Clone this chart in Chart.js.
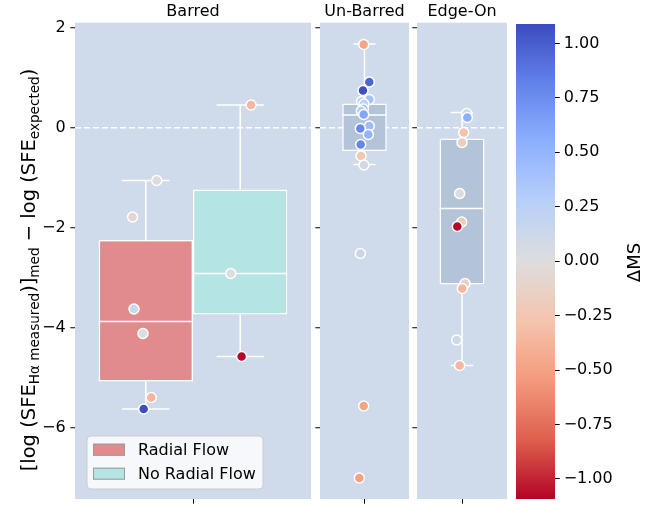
<!DOCTYPE html>
<html><head><meta charset="utf-8">
<script src="https://cdn.jsdelivr.net/npm/chart.js@4.4.1/dist/chart.umd.min.js"></script>
<style>
html,body{margin:0;padding:0;background:#fff;}
#wrap{position:relative;width:649px;height:505px;overflow:hidden;background:#fff;}
canvas{position:absolute;top:0;}
</style></head><body>
<div id="wrap">
<canvas id="c1" width="311" height="505" style="left:0px"></canvas>
<canvas id="c2" width="98" height="505" style="left:311px"></canvas>
<canvas id="c3" width="98" height="505" style="left:409px"></canvas>
<canvas id="c4" width="142" height="505" style="left:507px"></canvas>
</div>
<script>
// ---------------- DATA ----------------
const panelTitles = ['Barred', 'Un-Barred', 'Edge-On'];
const hueLabels = ['Radial Flow', 'No Radial Flow'];
const yTicks = [-6, -4, -2, 0, 2];
const yTickLabels = ['−6', '−4', '−2', '0', '2'];
const cbTicks = [-1, -0.75, -0.5, -0.25, 0, 0.25, 0.5, 0.75, 1];
const cbTickLabels = ['−1.00', '−0.75', '−0.50', '−0.25', '0.00', '0.25', '0.50', '0.75', '1.00'];
const cbTitle = 'ΔMS';

// box statistics: [lower whisker, Q1, median, Q3, upper whisker]
const barredRadialBox   = [-5.62, -5.07, -3.87, -2.24, -1.05];
const barredNoRadialBox = [-4.57, -3.73, -2.91, -1.23, 0.46];
const unbarredBox       = [-0.73, -0.46, 0.26, 0.49, 1.68];
const edgeonBox         = [-4.75, -3.13, -1.61, -0.21, 0.31];

// strip points: x = position within the panel category, y = value, dms = ΔMS
const barredRadialX   = [-0.154, -0.256, -0.250, -0.212, -0.177, -0.209];
const barredRadialY   = [-1.05, -1.78, -3.62, -4.11, -5.39, -5.62];
const barredRadialDMS = [-0.03, -0.08, 0.13, 0.00, -0.37, 1.08];

const barredNoRadialX   = [0.246, 0.160, 0.206];
const barredNoRadialY   = [0.46, -2.91, -4.57];
const barredNoRadialDMS = [-0.36, 0.00, -1.08];

const unbarredX   = [-0.009, 0.054, -0.017, 0.054, -0.034, -0.006, -0.013, -0.036, -0.009, 0.054, -0.047, 0.043, -0.043, -0.039, -0.006, -0.047, -0.009, -0.058];
const unbarredY   = [1.67, 0.92, 0.75, 0.57, 0.53, 0.48, 0.38, 0.34, 0.27, 0.04, -0.01, -0.13, -0.33, -0.56, -0.74, -2.51, -5.56, -7.00];
const unbarredDMS = [-0.46, 0.96, 1.07, 0.40, 0.25, 0.22, 0.55, 0.30, 0.60, 0.45, 0.78, 0.50, 0.80, -0.25, 0.08, 0.15, -0.48, -0.50];

const edgeonX   = [0.052, 0.059, 0.019, 0.000, -0.026, -0.003, -0.052, 0.033, 0.003, -0.059, -0.026];
const edgeonY   = [0.29, 0.21, -0.09, -0.29, -1.31, -1.88, -1.97, -3.11, -3.21, -4.24, -4.75];
const edgeonDMS = [0.15, 0.55, -0.28, -0.17, 0.02, -0.20, -1.08, -0.15, -0.35, 0.10, -0.36];

// ---------------- STYLE / SCALES ----------------
const Y_MIN = -7.42, Y_MAX = 2.106;
const CB_MIN = -1.092, CB_MAX = 1.089;
const PANEL_BG = '#cfdaea';
const RF_COLOR = '#e18b8c';
const NRF_COLOR = '#b5e4e4';
const GREY_BOX = '#b4c4d8';

Chart.defaults.font.family = "'DejaVu Sans', sans-serif";
Chart.defaults.font.size = 16;
Chart.defaults.color = '#000';

const coolwarmStops = [[59,76,192],[98,130,234],[141,176,254],[184,208,249],[221,221,221],[245,196,173],[244,154,123],[222,96,77],[180,4,38]];
function coolwarm(t) {
  t = Math.max(0, Math.min(1, t));
  const p = t * 8, i = Math.min(7, Math.floor(p)), f = p - i;
  const a = coolwarmStops[i], b = coolwarmStops[i + 1];
  const c = a.map((v, k) => Math.round(v + (b[k] - v) * f));
  return `rgb(${c[0]},${c[1]},${c[2]})`;
}
// reversed map: high ΔMS -> blue
function dmsColor(v) { return coolwarm((CB_MAX - v) / (CB_MAX - CB_MIN)); }

function points(xs, ys) { return xs.map((x, i) => ({ x, y: ys[i] })); }

function boxDataset(label, stats, color, catPct) {
  return {
    type: 'bar', label, boxStats: stats,
    data: [{ x: 0, y: [stats[1], stats[3]] }],
    backgroundColor: color, borderColor: '#ffffff', borderWidth: 1.5, borderSkipped: false,
    categoryPercentage: catPct, barPercentage: 1, inflateAmount: 0, order: 3
  };
}
function stripDataset(xs, ys, dms) {
  return {
    type: 'scatter', data: points(xs, ys),
    pointBackgroundColor: dms.map(dmsColor), pointBorderColor: '#ffffff',
    pointBorderWidth: 1.5, pointRadius: 5, order: 1
  };
}

const bgPlugin = {
  id: 'panelBg',
  beforeDraw(chart) {
    const a = chart.chartArea, c = chart.ctx;
    c.save(); c.fillStyle = PANEL_BG;
    c.fillRect(a.left, a.top, a.right - a.left, a.bottom - a.top);
    c.restore();
  }
};

const boxPlugin = {
  id: 'boxWhiskers',
  afterDatasetDraw(chart, args) {
    const ds = chart.data.datasets[args.index];
    if (!ds.boxStats) return;
    const el = args.meta.data[0];
    if (!el) return;
    const { x, width } = el.getProps(['x', 'width'], true);
    const ys = chart.scales.y;
    const p = v => ys.getPixelForValue(v);
    const [lo, q1, med, q3, hi] = ds.boxStats;
    const cap = width * 0.25;
    const c = chart.ctx;
    c.save();
    c.strokeStyle = '#ffffff'; c.lineWidth = 1.5;
    c.beginPath();
    c.moveTo(x, p(q3)); c.lineTo(x, p(hi));
    c.moveTo(x, p(q1)); c.lineTo(x, p(lo));
    c.moveTo(x - cap, p(hi)); c.lineTo(x + cap, p(hi));
    c.moveTo(x - cap, p(lo)); c.lineTo(x + cap, p(lo));
    c.moveTo(x - width / 2, p(med)); c.lineTo(x + width / 2, p(med));
    c.stroke();
    c.restore();
  }
};

const legendPlugin = {
  id: 'boxLegend',
  afterDraw(chart, args, o) {
    if (!o || !o.show) return;
    const c = chart.ctx;
    const items = chart.data.datasets.filter(d => d.boxStats);
    c.save();
    c.beginPath();
    c.roundRect(o.x, o.y, o.w, o.h, 4);
    c.fillStyle = 'rgba(255,255,255,0.8)'; c.fill();
    c.strokeStyle = '#cccccc'; c.lineWidth = 1; c.stroke();
    c.font = "16px 'DejaVu Sans'"; c.textBaseline = 'middle'; c.textAlign = 'left';
    items.forEach((d, i) => {
      const cy = o.y + o.first + i * o.step;
      c.fillStyle = d.backgroundColor;
      c.fillRect(o.x + 6, cy - 6, 32, 12);
      c.strokeStyle = '#9a9a9a'; c.lineWidth = 1;
      c.strokeRect(o.x + 6.5, cy - 5.5, 31, 11);
      c.fillStyle = '#000';
      c.fillText(d.label, o.x + 51, cy + 1);
    });
    c.restore();
  }
};

const yTitlePlugin = {
  id: 'yTitle',
  afterDraw(chart, args, o) {
    if (!o || !o.show) return;
    const c = chart.ctx;
    const pieces = [['[log (SFE', 0], ['Hα measured', 1], [')]', 0], ['med', 1], [' − log (SFE', 0], ['expected', 1], [')', 0]];
    const mainF = `${o.main}px 'DejaVu Sans'`, subF = `${o.sub}px 'DejaVu Sans'`;
    let total = 0;
    const widths = pieces.map(([t, s]) => { c.font = s ? subF : mainF; const w = c.measureText(t).width; total += w; return w; });
    c.save();
    c.translate(o.x, o.y);
    c.rotate(-Math.PI / 2);
    c.fillStyle = '#000'; c.textBaseline = 'alphabetic'; c.textAlign = 'left';
    let pos = -total / 2;
    pieces.forEach(([t, s], i) => {
      c.font = s ? subF : mainF;
      c.fillText(t, pos, s ? o.shift : 0);
      pos += widths[i];
    });
    c.restore();
  }
};

const cbLabelPlugin = {
  id: 'cbLabel',
  afterDraw(chart, args, o) {
    const c = chart.ctx;
    c.save();
    c.translate(o.x, o.y);
    c.rotate(-Math.PI / 2);
    c.font = "18px 'DejaVu Sans'"; c.fillStyle = '#000';
    c.textAlign = 'center'; c.textBaseline = 'alphabetic';
    c.fillText(cbTitle, 0, 0);
    c.restore();
  }
};

function yAxis(showLabels, width) {
  return {
    type: 'linear', position: 'left', min: Y_MIN, max: Y_MAX,
    afterBuildTicks: a => { a.ticks = yTicks.map(v => ({ value: v })); },
    afterFit: a => { a.width = width; a.paddingTop = 0; a.paddingBottom = 0; },
    ticks: { display: showLabels, padding: 4.7, color: '#000', font: { size: 16 }, callback: (v, i) => yTickLabels[i] },
    grid: {
      color: ctx => (ctx.tick && ctx.tick.value === 0) ? '#ffffff' : 'rgba(0,0,0,0)',
      lineWidth: 1.5, drawOnChartArea: true, drawTicks: true,
      tickColor: '#000', tickLength: 4.7, tickWidth: 1, tickBorderDash: []
    },
    border: { display: false, dash: [6, 3] }
  };
}
function xAxis() {
  return {
    type: 'linear', min: -0.5, max: 0.5, offset: false,
    afterBuildTicks: a => { a.ticks = [{ value: 0 }]; },
    afterFit: a => { a.height = 6; a.paddingLeft = 0; a.paddingRight = 0; },
    ticks: { display: false },
    grid: { offset: false, drawOnChartArea: false, drawTicks: true, tickColor: '#000', tickLength: 4.7, tickWidth: 1 },
    border: { display: false }
  };
}

function panelChart(id, title, datasets, yWidth, showY, extra) {
  return new Chart(document.getElementById(id), {
    type: 'scatter',
    data: { datasets },
    options: {
      responsive: false, animation: false, events: [],
      layout: { padding: 0, autoPadding: false },
      plugins: Object.assign({
        legend: { display: false }, tooltip: { enabled: false },
        title: { display: true, text: title, fullSize: false, color: '#000', font: { size: 16, weight: 'normal' }, padding: { top: 2, bottom: 1.5 } }
      }, extra || {}),
      scales: { x: xAxis(), y: yAxis(showY, yWidth) }
    },
    plugins: [bgPlugin, boxPlugin, legendPlugin, yTitlePlugin]
  });
}

panelChart('c1', panelTitles[0], [
  boxDataset(hueLabels[0], barredRadialBox, RF_COLOR, 0.8),
  boxDataset(hueLabels[1], barredNoRadialBox, NRF_COLOR, 0.8),
  stripDataset(barredRadialX, barredRadialY, barredRadialDMS),
  stripDataset(barredNoRadialX, barredNoRadialY, barredNoRadialDMS)
], 75, true, {
  boxLegend: { show: true, x: 87, y: 436, w: 176, h: 53, first: 13.7, step: 24 },
  yTitle: { show: true, x: 35, y: 270, main: 19.5, sub: 13.6, shift: 4 }
});

panelChart('c2', panelTitles[1], [
  boxDataset('', unbarredBox, GREY_BOX, 0.5),
  stripDataset(unbarredX, unbarredY, unbarredDMS)
], 9, false);

panelChart('c3', panelTitles[2], [
  boxDataset('', edgeonBox, GREY_BOX, 0.5),
  stripDataset(edgeonX, edgeonY, edgeonDMS)
], 8, false);

function cbGradient(chart) {
  const a = chart.chartArea;
  if (!a) return null;
  const ys = chart.scales.y;
  const g = chart.ctx.createLinearGradient(0, ys.getPixelForValue(CB_MAX), 0, ys.getPixelForValue(CB_MIN));
  for (let i = 0; i <= 48; i++) { const t = i / 48; g.addColorStop(t, coolwarm(t)); }
  return g;
}

new Chart(document.getElementById('c4'), {
  type: 'scatter',
  data: { datasets: [{
    type: 'bar', data: [{ x: 0, y: [CB_MIN, CB_MAX] }],
    backgroundColor: ctx => cbGradient(ctx.chart), borderWidth: 0,
    categoryPercentage: 1, barPercentage: 1, inflateAmount: 0
  }] },
  options: {
    responsive: false, animation: false, events: [],
    layout: { padding: { top: 24, bottom: 6, left: 9, right: 0 }, autoPadding: false },
    plugins: { legend: { display: false }, tooltip: { enabled: false }, cbLabel: { x: 133, y: 262.5 } },
    scales: {
      x: { type: 'linear', min: -0.5, max: 0.5, display: false, afterBuildTicks: a => { a.ticks = [{ value: 0 }]; } },
      y: {
        type: 'linear', position: 'right', min: CB_MIN, max: CB_MAX,
        afterBuildTicks: a => { a.ticks = cbTicks.map(v => ({ value: v })); },
        afterFit: a => { a.width = 94; a.paddingTop = 0; a.paddingBottom = 0; },
        ticks: { padding: 4, color: '#000', font: { size: 16 }, callback: (v, i) => cbTickLabels[i] },
        grid: { drawOnChartArea: false, drawTicks: true, tickColor: '#000', tickLength: 4.7, tickWidth: 1 },
        border: { display: false }
      }
    }
  },
  plugins: [cbLabelPlugin]
});
</script>
</body></html>
